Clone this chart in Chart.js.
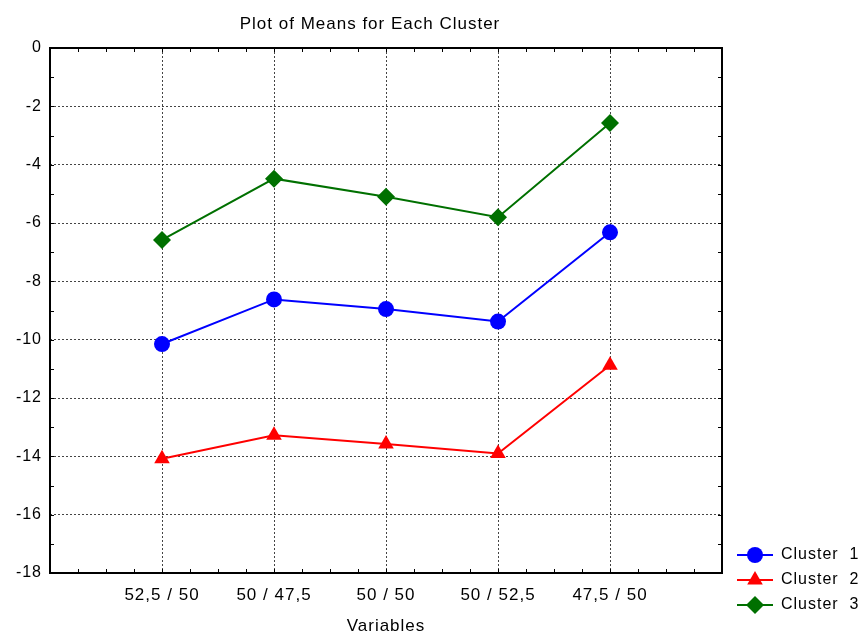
<!DOCTYPE html>
<html>
<head>
<meta charset="utf-8">
<script src="https://cdn.jsdelivr.net/npm/chart.js@4/dist/chart.umd.min.js"></script>
<style>
html, body { margin: 0; padding: 0; background: #fff; }
#wrap { width: 862px; height: 637px; position: relative; }
</style>
</head>
<body>
<div id="wrap"><canvas id="chart"></canvas></div>
<script>
var categories = ['52,5 / 50', '50 / 47,5', '50 / 50', '50 / 52,5', '47,5 / 50'];
var seriesNames = ['Cluster  1', 'Cluster  2', 'Cluster  3'];
var cluster1 = [-10.15, -8.62, -8.95, -9.38, -6.32];
var cluster2 = [-14.08, -13.28, -13.58, -13.90, -10.88];
var cluster3 = [-6.58, -4.48, -5.10, -5.80, -2.57];

var FONT = "'Liberation Sans', Arial, sans-serif";

function toPoints(values) {
    return values.map(function (v, i) { return { x: i + 1, y: v }; });
}

// frame, inward minor ticks, title and legend with line + marker
var decorations = {
    id: 'decorations',
    beforeInit: function (chart) { chart.ctx.letterSpacing = '1px'; },
    beforeLayout: function (chart) { chart.ctx.letterSpacing = '1px'; },
    beforeDraw: function (chart) { chart.ctx.letterSpacing = '1px'; },
    afterDraw: function (chart) {
        var ctx = chart.ctx;
        var a = chart.chartArea;
        var xs = chart.scales.x, ys = chart.scales.y;
        ctx.save();
        ctx.strokeStyle = '#000';
        ctx.lineWidth = 2;
        ctx.strokeRect(a.left, a.top, a.right - a.left, a.bottom - a.top);

        ctx.lineWidth = 1;
        ctx.beginPath();
        for (var v = ys.min; v <= ys.max; v += 1) {
            var py = Math.round(ys.getPixelForValue(v)) + 0.5;
            ctx.moveTo(a.left, py); ctx.lineTo(a.left + 4, py);
            ctx.moveTo(a.right, py); ctx.lineTo(a.right - 4, py);
        }
        for (var u = xs.min; u <= xs.max; u += 0.25) {
            var px = Math.round(xs.getPixelForValue(u)) + 0.5;
            ctx.moveTo(px, a.top); ctx.lineTo(px, a.top + 4);
            ctx.moveTo(px, a.bottom); ctx.lineTo(px, a.bottom - 4);
        }
        ctx.stroke();

        // title
        ctx.fillStyle = '#000';
        ctx.font = '17px ' + FONT;
        ctx.textAlign = 'center';
        ctx.textBaseline = 'middle';
        ctx.fillText('Plot of Means for Each Cluster', 370, 24);

        // legend
        ctx.font = '16px ' + FONT;
        ctx.textAlign = 'left';
        chart.data.datasets.forEach(function (ds, i) {
            var y = a.bottom - 18 + i * 25;
            var x0 = a.right + 15;
            ctx.strokeStyle = ds.borderColor;
            ctx.lineWidth = 2;
            ctx.beginPath();
            ctx.moveTo(x0, y); ctx.lineTo(x0 + 36, y);
            ctx.stroke();
            ctx.fillStyle = ds.pointBackgroundColor;
            Chart.helpers.drawPoint(ctx, {
                pointStyle: ds.pointStyle, radius: ds.pointRadius, rotation: 0, borderWidth: 0
            }, x0 + 18, y);
            ctx.fillStyle = '#000';
            ctx.fillText(ds.label, x0 + 44, y);
        });
        ctx.restore();
    }
};

function makeSet(label, values, color, style, r) {
    return {
        label: label,
        data: toPoints(values),
        borderColor: color,
        backgroundColor: color,
        pointBackgroundColor: color,
        pointBorderColor: color,
        pointBorderWidth: 0,
        pointStyle: style,
        pointRadius: r,
        borderWidth: 2,
        tension: 0
    };
}

new Chart(document.getElementById('chart').getContext('2d'), {
    type: 'line',
    data: {
        datasets: [
            makeSet(seriesNames[0], cluster1, '#0000ff', 'circle', 8),
            makeSet(seriesNames[1], cluster2, '#ff0000', 'triangle', 9),
            makeSet(seriesNames[2], cluster3, '#007000', 'rectRot', 9)
        ]
    },
    options: {
        responsive: true,
        maintainAspectRatio: false,
        animation: false,
        layout: { padding: { top: 48, right: 140, left: 0, bottom: 0 } },
        plugins: {
            legend: { display: false },
            title: { display: false },
            tooltip: { enabled: false }
        },
        scales: {
            x: {
                type: 'linear',
                min: 0,
                max: 6,
                afterFit: function (s) { s.height = 64; },
                afterBuildTicks: function (s) {
                    s.ticks = categories.map(function (c, i) { return { value: i + 1 }; });
                },
                ticks: {
                    padding: 12,
                    color: '#000',
                    font: { family: FONT, size: 17 },
                    callback: function (v) { return categories[v - 1]; }
                },
                grid: {
                    color: '#444',
                    lineWidth: 1,
                    drawTicks: false
                },
                border: { display: false, dash: [2, 2] },
                title: {
                    display: true,
                    text: 'Variables',
                    color: '#000',
                    font: { family: FONT, size: 17 },
                    padding: { top: 0, bottom: 0 }
                }
            },
            y: {
                min: -18,
                max: 0,
                afterFit: function (s) { s.width = 50; },
                ticks: {
                    stepSize: 2,
                    padding: 8,
                    color: '#000',
                    font: { family: FONT, size: 16 }
                },
                grid: {
                    color: '#444',
                    lineWidth: 1,
                    drawTicks: false
                },
                border: { display: false, dash: [2, 2] }
            }
        }
    },
    plugins: [decorations]
});
</script>
</body>
</html>
